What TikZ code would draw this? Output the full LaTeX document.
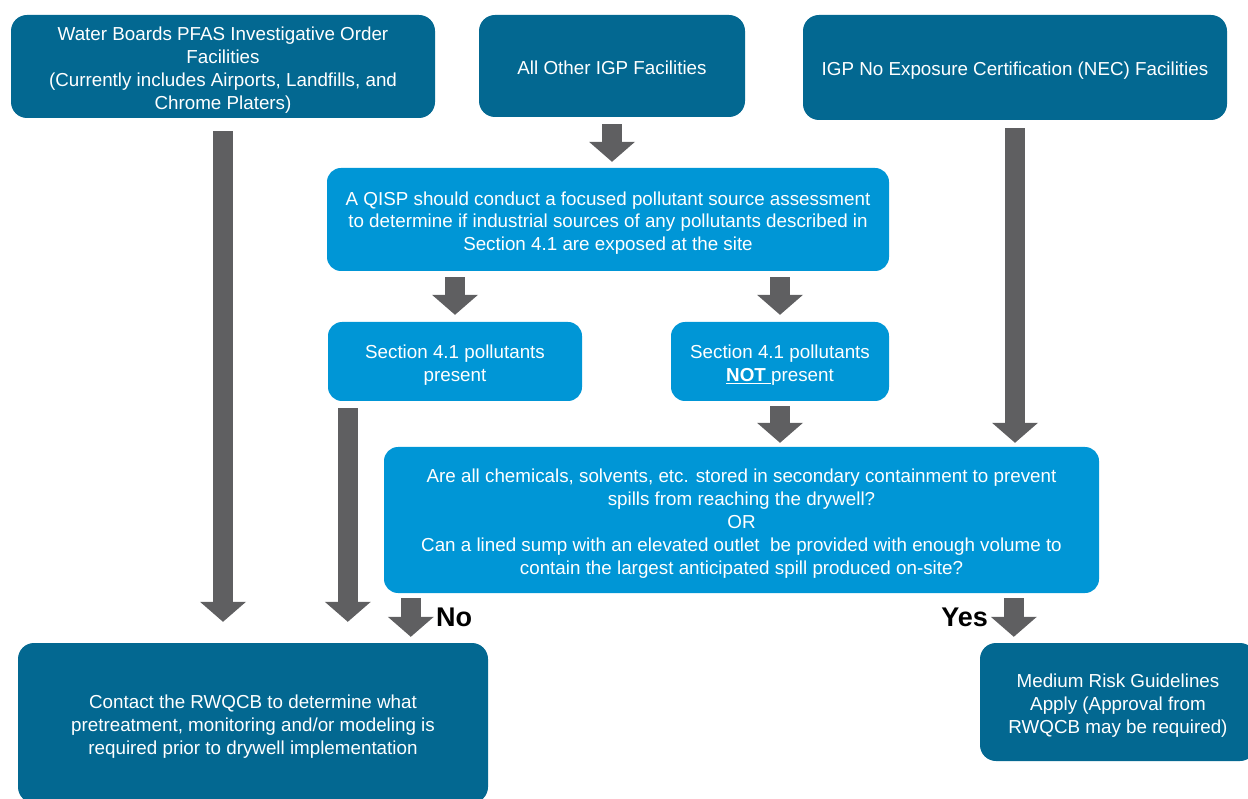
\documentclass[tikz,border=0pt]{standalone}
\usepackage{fontspec}
\setmainfont{Liberation Sans}
\usepackage{xcolor}
\usetikzlibrary{arrows.meta, positioning, calc}
\definecolor{cDark}{RGB}{3,104,145}
\definecolor{cLight}{RGB}{0,150,214}
\definecolor{cArrow}{RGB}{95,95,97}
\newcommand{\tstrut}{\rule{0pt}{22pt}}
\tikzset{
	boxtext/.style ={rectangle, text=white, align=center, inner sep=0pt, font=\fontsize{18.8}{22.8}\selectfont,
		execute at end node={\rule[-5pt]{0pt}{5pt}}},
	darkbox/.style ={boxtext, rounded corners=16pt, fill=cDark},
	lightbox/.style={boxtext, rounded corners=14pt, fill=cLight},
	blkarrow/.style={draw=cArrow, line width=20pt, -{Triangle[length=20pt, width=46pt, line width=0pt]}},
	answer/.style  ={inner sep=0pt, font=\fontsize{27}{30}\selectfont\bfseries},
}

\begin{document}
\begin{tikzpicture}[x=1pt, y=-1pt]
	\useasboundingbox (0,0) rectangle (1248,799);
	% top row
	\node[darkbox, minimum width=424pt, minimum height=103pt] (wbf) at (223,66.5) {\tstrut Water Boards PFAS Investigative Order\\Facilities\\(Currently includes Airports, Landfills, and\\Chrome Platers)};
	\node[darkbox, minimum width=266pt, minimum height=102pt] (other) at (612,66) {\tstrut All Other IGP Facilities};
	\node[darkbox, minimum width=424pt, minimum height=105pt] (nec) at (1015,67.5) {\tstrut IGP No Exposure Certification (NEC) Facilities};
	% assessment and outcomes
	\node[lightbox, minimum width=562pt, minimum height=103pt] (qisp) at (608,219.5) {\tstrut A QISP should conduct a focused pollutant source assessment\\to determine if industrial sources of any pollutants described in\\Section 4.1 are exposed at the site};
	\node[lightbox, minimum width=254pt, minimum height=79pt] (present) at (455,361.5) {\tstrut Section 4.1 pollutants\\present};
	\node[lightbox, minimum width=218pt, minimum height=79pt] (notpres) at (780,361.5) {\tstrut Section 4.1 pollutants\\\underline{\textbf{NOT }}present};
	\node[lightbox, minimum width=715pt, minimum height=146pt] (question) at (741.5,520) {\tstrut Are all chemicals, solvents, etc. stored in secondary containment to prevent\\spills from reaching the drywell?\\OR\\Can a lined sump with an elevated outlet\ \ be provided with enough volume to\\contain the largest anticipated spill produced on-site?};
	% results
	\node[darkbox, minimum width=470pt, minimum height=160pt] (contact) at (253,723) {\tstrut Contact the RWQCB to determine what\\pretreatment, monitoring and/or modeling is\\required prior to drywell implementation};
	\node[darkbox, minimum width=276pt, minimum height=118pt] (medium) at (1118,702) {\tstrut Medium Risk Guidelines\\Apply (Approval from\\RWQCB may be required)};
	% arrows
	\coordinate (presOut) at ($(present.south west)+(20,0)$);
	\coordinate (noOut) at ($(question.south west)+(27,0)$);
	\coordinate (yesOut) at ($(medium.north west)+(34,0)$);
	\draw[blkarrow, shorten <=13pt, shorten >=21pt] (wbf.south) -- (wbf.south |- contact.north);
	\draw[blkarrow, shorten <=7pt, shorten >=6pt] (other.south) -- (other.south |- qisp.north);
	\draw[blkarrow, shorten <=8pt, shorten >=4pt] (nec.south) -- (nec.south |- question.north);
	\draw[blkarrow, shorten <=6pt, shorten >=7pt] (present.north |- qisp.south) -- (present.north);
	\draw[blkarrow, shorten <=6pt, shorten >=7pt] (notpres.north |- qisp.south) -- (notpres.north);
	\draw[blkarrow, shorten <=7pt, shorten >=21pt] (presOut) -- (presOut |- contact.north);
	\draw[blkarrow, shorten <=5pt, shorten >=4pt] (notpres.south) -- (notpres.south |- question.north);
	\draw[blkarrow, shorten <=5pt, shorten >=6pt] (noOut) -- (noOut |- contact.north);
	\draw[blkarrow, shorten <=5pt, shorten >=6pt] (yesOut |- question.south) -- (yesOut);
	\node[answer, anchor=west] (no) at (436,617) {No};
	\node[answer, anchor=east] (yes) at (988,617) {Yes};
\end{tikzpicture}
\end{document}
